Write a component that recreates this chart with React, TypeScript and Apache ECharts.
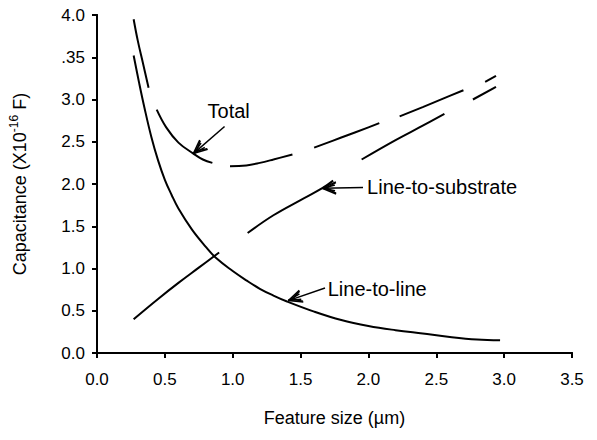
import React, { useEffect, useRef } from "react";
import * as echarts from "echarts";

// x: feature size (µm), y: capacitance (x10^-16 F)
const lineToLine: number[][][] = [[
  [0.27, 3.52], [0.31, 3.2], [0.35, 2.9], [0.4, 2.56], [0.45, 2.28], [0.5, 2.05],
  [0.55, 1.87], [0.6, 1.71], [0.7, 1.46], [0.8, 1.26], [0.88, 1.12], [1.0, 0.97],
  [1.1, 0.86], [1.2, 0.76], [1.3, 0.68], [1.4, 0.61], [1.6, 0.49], [1.8, 0.39],
  [2.0, 0.32], [2.2, 0.27], [2.4, 0.23], [2.6, 0.19], [2.8, 0.16], [2.97, 0.15],
]];

const lineToSubstrate: number[][][] = [
  [[0.27, 0.4], [0.45, 0.64], [0.6, 0.83], [0.75, 1.01], [0.9, 1.19]],
  [[1.11, 1.42], [1.3, 1.63], [1.5, 1.81], [1.66, 1.95], [1.74, 2.04]],
  [[1.95, 2.29], [2.2, 2.52], [2.4, 2.69], [2.56, 2.83]],
  [[2.77, 3.0], [2.94, 3.15]],
];

const total: number[][][] = [
  [[0.27, 3.95], [0.3, 3.7], [0.34, 3.42], [0.38, 3.14]],
  [[0.44, 2.88], [0.51, 2.67], [0.6, 2.49], [0.71, 2.36], [0.78, 2.29], [0.85, 2.25]],
  [[0.98, 2.21], [1.1, 2.22], [1.2, 2.25], [1.3, 2.29], [1.44, 2.35]],
  [[1.6, 2.43], [1.8, 2.55], [2.0, 2.67], [2.08, 2.72]],
  [[2.23, 2.8], [2.4, 2.91], [2.55, 3.01], [2.7, 3.11]],
  [[2.86, 3.21], [2.94, 3.28]],
];

// annotations: label text, label anchor (data), arrow tail, arrow tip (data)
const annotations = [
  { text: "Total", at: [0.97, 2.86], align: "center", tail: [0.94, 2.68], tip: [0.71, 2.36] },
  { text: "Line-to-substrate", at: [1.99, 1.96], align: "left", tail: [1.96, 1.96], tip: [1.66, 1.95] },
  { text: "Line-to-line", at: [1.7, 0.76], align: "left", tail: [1.68, 0.77], tip: [1.41, 0.62] },
];

const xTicks = { min: 0, max: 3.5, interval: 0.5 };
const yTicks = { min: 0, max: 4, interval: 0.5 };

const FONT = "Liberation Sans, Arial, sans-serif";

export default function App() {
  const ref = useRef<HTMLDivElement>(null);
  useEffect(() => {
    if (!ref.current) return;
    const chart = echarts.init(ref.current, undefined, { renderer: "svg" });
    const lineStyle = { color: "#000", width: 2 };
    const mk = (segs: number[][][], name: string) =>
      segs.map((d) => ({
        name,
        type: "line",
        data: d,
        symbol: "none",
        smooth: 0.4,
        lineStyle,
        silent: true,
      }));
    const axisLine = { show: true, lineStyle: { color: "#000", width: 2 } };
    chart.setOption({
      animation: false,
      grid: { left: 97, right: 25, top: 15, bottom: 87 },
      xAxis: [
        {
          type: "value", ...xTicks, position: "bottom",
          axisLine, splitLine: { show: false },
          axisTick: { show: true, inside: false, length: 5, lineStyle: { color: "#000", width: 2 } },
          axisLabel: { color: "#000", fontSize: 17, fontFamily: FONT, margin: 18, formatter: (v: number) => v.toFixed(1) },
          name: "Feature size (µm)", nameLocation: "middle", nameGap: 56,
          nameTextStyle: { color: "#000", fontSize: 18, fontFamily: FONT },
        },
        {
          type: "value", ...xTicks, position: "top",
          axisLine, splitLine: { show: false },
          axisTick: { show: true, inside: true, length: 5, lineStyle: { color: "#000", width: 2 } },
          axisLabel: { show: false },
        },
      ],
      yAxis: [
        {
          type: "value", ...yTicks, position: "left",
          axisLine, splitLine: { show: false },
          axisTick: { show: true, inside: false, length: 5, lineStyle: { color: "#000", width: 2 } },
          axisLabel: {
            color: "#000", fontSize: 17, fontFamily: FONT, margin: 12,
            formatter: (v: number) => (v === 3.5 ? ".35" : v.toFixed(1)),
          },
          name: "Capacitance (X10{sup|-16} F)", nameLocation: "middle", nameGap: 65, nameRotate: 90,
          nameTextStyle: {
            color: "#000", fontSize: 18, fontFamily: FONT, lineHeight: 24,
            rich: { sup: { fontSize: 12, fontFamily: FONT, color: "#000", verticalAlign: "top", lineHeight: 24, padding: [0, 0, 8, 0] } },
          },
        },
        {
          type: "value", ...yTicks, position: "right",
          axisLine, splitLine: { show: false },
          axisTick: { show: true, inside: true, length: 5, lineStyle: { color: "#000", width: 2 } },
          axisLabel: { show: false },
        },
      ],
      series: [...mk(lineToLine, "Line-to-line"), ...mk(lineToSubstrate, "Line-to-substrate"), ...mk(total, "Total")],
    });

    const px = (p: number[]) => chart.convertToPixel({ gridIndex: 0 }, p) as number[];
    const graphics: any[] = [];
    annotations.forEach((a) => {
      const [lx, ly] = px(a.at);
      graphics.push({
        type: "text", x: lx, y: ly,
        style: { text: a.text, fill: "#000", fontSize: 20, fontFamily: FONT, align: a.align, verticalAlign: "middle" },
      });
      const [tx, ty] = px(a.tail);
      const [hx, hy] = px(a.tip);
      graphics.push({ type: "line", shape: { x1: tx, y1: ty, x2: hx, y2: hy }, style: { stroke: "#000", lineWidth: 1.5 } });
      const ang = Math.atan2(ty - hy, tx - hx);
      [
        [0, 0.42, 15],
        [0, 0.22, 13],
        [4, 0.5, 11],
      ].forEach(([off, d, len]) => {
        const bx = hx + off * Math.cos(ang);
        const by = hy + off * Math.sin(ang);
        [-d, d].forEach((dd) => {
          graphics.push({
            type: "line",
            shape: { x1: bx, y1: by, x2: bx + len * Math.cos(ang + dd), y2: by + len * Math.sin(ang + dd) },
            style: { stroke: "#000", lineWidth: 1.5 },
          });
        });
      });
    });
    chart.setOption({ graphic: graphics });
    return () => chart.dispose();
  }, []);
  return <div ref={ref} style={{ width: 597, height: 440, margin: -8 }} />;
}
